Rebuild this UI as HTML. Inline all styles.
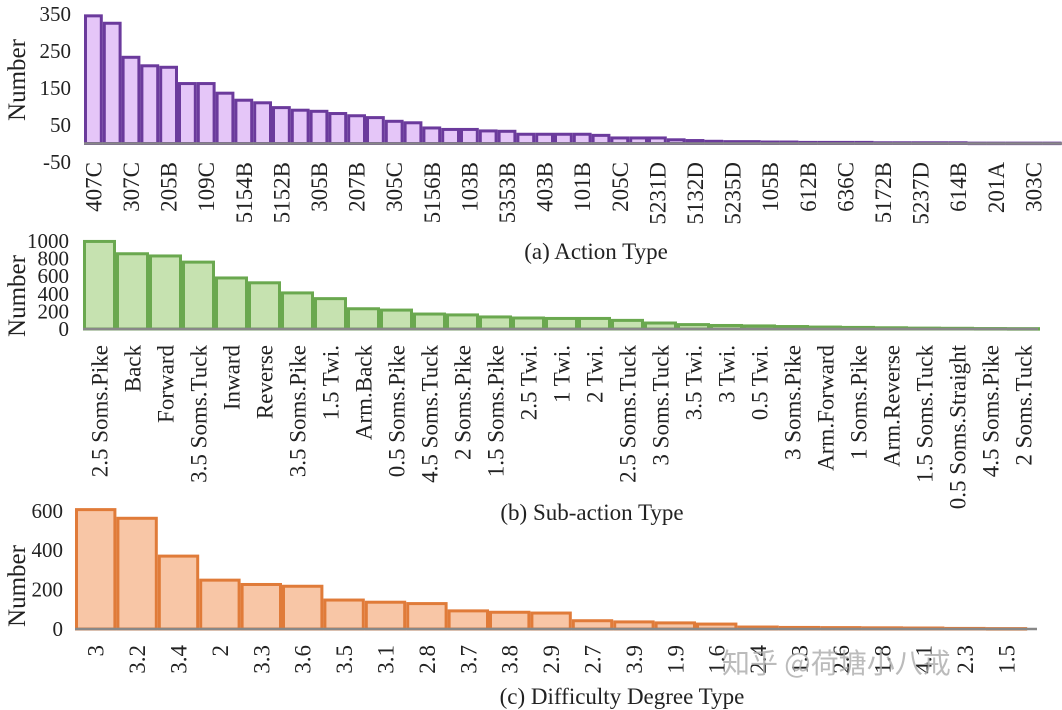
<!DOCTYPE html>
<html><head><meta charset="utf-8">
<style>
html,body{margin:0;padding:0;background:#fff;}
svg{display:block;font-family:"Liberation Serif","Noto Serif CJK SC",serif;}
</style></head>
<body>
<svg id="root" width="1062" height="710" viewBox="0 0 1062 710"></svg>
<script>
const NS="http://www.w3.org/2000/svg";
const root=document.getElementById('root');
// Chart (a) data
const actionLabels=["407C","","307C","","205B","","109C","","5154B","","5152B","","305B","","207B","","305C","","5156B","","103B","","5353B","","403B","","101B","","205C","","5231D","","5132D","","5235D","","105B","","612B","","636C","","5172B","","5237D","","614B","","201A","","303C",""];
const actionValues=[345,325,233,210,206,162,162,136,117,110,97,90,87,81,75,70,60,56,42,38,38,34,33,25,25,25,25,22,15,15,15,10,8,6,5,5,4,4,3,3,3,3,2,2,2,2,2,1,1,1,1,1];
const actionTicks=[350,250,150,50,-50];
// Chart (b) data
const subLabels=["2.5 Soms.Pike","Back","Forward","3.5 Soms.Tuck","Inward","Reverse","3.5 Soms.Pike","1.5 Twi.","Arm.Back","0.5 Soms.Pike","4.5 Soms.Tuck","2 Soms.Pike","1.5 Soms.Pike","2.5 Twi.","1 Twi.","2 Twi.","2.5 Soms.Tuck","3 Soms.Tuck","3.5 Twi.","3 Twi.","0.5 Twi.","3 Soms.Pike","Arm.Forward","1 Soms.Pike","Arm.Reverse","1.5 Soms.Tuck","0.5 Soms.Straight","4.5 Soms.Pike","2 Soms.Tuck"];
const subValues=[995,855,830,760,580,525,410,345,230,215,170,160,137,125,120,120,98,68,50,40,35,28,22,18,14,10,8,5,4];
const subTicks=[1000,800,600,400,200,0];
// Chart (c) data
const diffLabels=["3","3.2","3.4","2","3.3","3.6","3.5","3.1","2.8","3.7","3.8","2.9","2.7","3.9","1.9","1.6","2.4","1.3","2.6","1.8","4.1","2.3","1.5"];
const diffValues=[606,562,370,248,226,217,147,136,129,92,85,81,42,36,31,25,10,8,7,6,5,3,2];
const diffTicks=[600,400,200,0];

function el(tag,attrs,parent){const e=document.createElementNS(NS,tag);for(const k in attrs)e.setAttribute(k,attrs[k]);(parent||root).appendChild(e);return e;}

function chart(cfg){
  const g=el('g',{});
  
  
  const y=v=>cfg.zeroY-v*cfg.scale;
  const bw=cfg.bw;
  cfg.values.forEach((v,i)=>{
    const x=cfg.x0+i*bw;
    const top=y(Math.max(v,0));
    const r=el('rect',{x:x+cfg.sw/2,y:top,width:bw-cfg.sw,height:Math.max(cfg.zeroY-top,0.5),fill:cfg.fill,stroke:cfg.stroke,'stroke-width':cfg.sw},g);
    
    
    if(cfg.labels[i]){
      const cx=x+bw/2;
      const t=el('text',{x:0,y:0,transform:`translate(${cx+8},${cfg.labelTop}) rotate(-90)`,'text-anchor':'end','font-size':cfg.lfs,fill:'#222'},g);
      t.textContent=cfg.labels[i];
      
      
    }
  });
  const ax=el('line',{x1:cfg.x0,x2:cfg.axisEnd,y1:cfg.zeroY,y2:cfg.zeroY,stroke:'#888','stroke-width':2.5},g);
  
  
  cfg.ticks.forEach(tv=>{
    const t=el('text',{x:cfg.tickX,y:y(tv)+7,'text-anchor':'end','font-size':cfg.tfs,fill:'#222'},g);
    t.textContent=tv;
    
    
  });
  const yt=el('text',{x:0,y:0,transform:`translate(25,${cfg.ytY}) rotate(-90)`,'text-anchor':'middle','font-size':25,fill:'#222'},g);
  yt.textContent='Number';
  
  
  const ct=el('text',{x:cfg.capX,y:cfg.capY,'text-anchor':'middle','font-size':23,fill:'#222'},g);
  ct.textContent=cfg.caption;
  
  
}

chart({name:'action-type-chart',labels:actionLabels,values:actionValues,ticks:actionTicks,x0:84,bw:18.8,zeroY:143.5,scale:0.37,fill:'#e5c6f8',stroke:'#6b3a9c',sw:3,axisEnd:1062,labelTop:162,lfs:23,tfs:21,tickX:71,ytY:80,caption:'(a) Action Type',capX:596,capY:259});
chart({name:'sub-action-type-chart',labels:subLabels,values:subValues,ticks:subTicks,x0:83,bw:33,zeroY:329,scale:0.088,fill:'#c6e2b0',stroke:'#6aa84f',sw:3,axisEnd:1038,labelTop:345,lfs:23,tfs:21,tickX:69,ytY:296,caption:'(b) Sub-action Type',capX:592,capY:520});
chart({name:'difficulty-degree-chart',labels:diffLabels,values:diffValues,ticks:diffTicks,x0:75,bw:41.4,zeroY:629,scale:0.197,fill:'#f8c6a6',stroke:'#e07b39',sw:3,axisEnd:1037,labelTop:645,lfs:23,tfs:21,tickX:63,ytY:586,caption:'(c) Difficulty Degree Type',capX:622,capY:704});

const wm=el('text',{x:722,y:673,'font-size':28,fill:'#aaa','fill-opacity':0.8,'font-family':'"Noto Sans CJK SC",sans-serif'});
wm.textContent='知乎 @荷塘小八戒';


</script>
</body></html>
